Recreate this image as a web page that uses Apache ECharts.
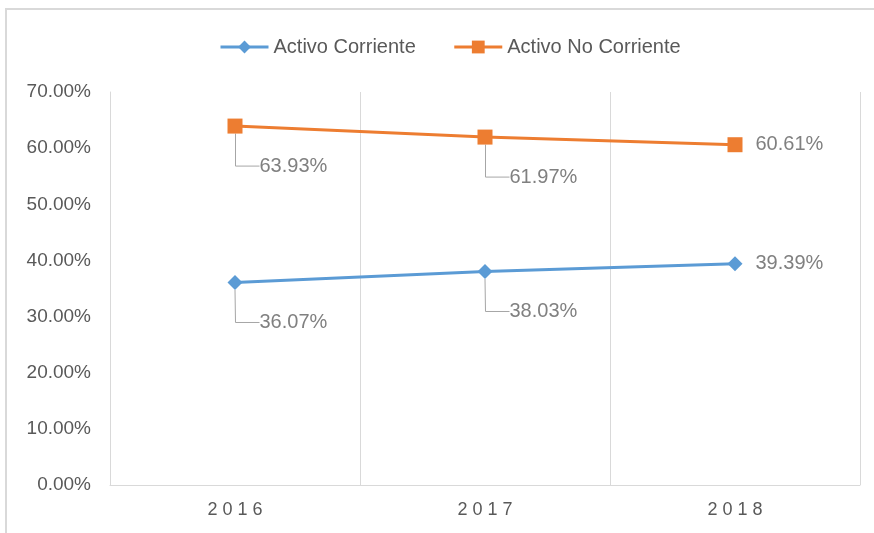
<!DOCTYPE html>
<html>
<head>
<meta charset="utf-8">
<script src="https://cdn.jsdelivr.net/npm/echarts@6/dist/echarts.min.js"></script>
<style>
  html, body { margin: 0; padding: 0; background: #fff; }
  #chart { width: 874px; height: 533px; }
</style>
</head>
<body>
<div id="chart"></div>
<script>
// años
const years = ['2016', '2017', '2018']
// porcentajes por serie
const corriente = [36.07, 38.03, 39.39]
const noCorriente = [63.93, 61.97, 60.61]
const yTicks = { min: 0, max: 70, step: 10 }

const font = '"Liberation Sans", Arial, sans-serif'
const blue = '#5B9BD5'
const orange = '#ED7D31'

// los dos primeros puntos llevan la etiqueta abajo con línea guía, el último a la derecha
function buildData(values) {
  return values.map((v, i) => {
    if (i === values.length - 1) return { value: v, labelLine: { show: false } }
    return { value: v }
  })
}

function labelShift(params) {
  if (params.dataIndex < years.length - 1) {
    return { dx: 4, dy: 40 }
  }
  return {}
}

function serie(name, values, color, symbol) {
  return {
    name,
    type: 'line',
    data: buildData(values),
    symbol,
    symbolSize: 15,
    lineStyle: { width: 3, color },
    itemStyle: { color },
    label: {
      show: true,
      position: 'right',
      distance: 13,
      formatter: p => p.value.toFixed(2) + '%',
      color: '#808080',
      fontSize: 20,
      fontFamily: font
    },
    labelLine: {
      show: true,
      length2: 24,
      minTurnAngle: 0,
      lineStyle: { color: '#a6a6a6', width: 1 }
    },
    labelLayout: labelShift
  }
}

const chart = echarts.init(document.getElementById('chart'))
chart.setOption({
  backgroundColor: '#fff',
  animation: false,
  graphic: [{
    type: 'rect',
    shape: { x: 6, y: 9, width: 1000, height: 700 },
    style: { fill: 'none', stroke: '#d9d9d9', lineWidth: 2 },
    silent: true
  }],
  legend: {
    top: 32,
    left: 214,
    itemWidth: 48,
    itemHeight: 16,
    itemGap: 37,
    lineStyle: { width: 3 },
    textStyle: { color: '#595959', fontSize: 20, fontFamily: font }
  },
  grid: { left: 110, right: 14, top: 92, bottom: 48 },
  xAxis: {
    type: 'category',
    data: years,
    boundaryGap: true,
    axisTick: { show: false },
    axisLine: { lineStyle: { color: '#d9d9d9', width: 1 } },
    splitLine: { show: true, lineStyle: { color: '#d9d9d9', width: 1 } },
    axisLabel: {
      color: '#595959',
      fontSize: 18,
      fontFamily: font,
      margin: 16,
      formatter: v => v.split('').join(' ')
    }
  },
  yAxis: {
    type: 'value',
    min: yTicks.min,
    max: yTicks.max,
    interval: yTicks.step,
    axisLine: { show: true, lineStyle: { color: '#d9d9d9', width: 1 } },
    axisTick: { show: false },
    splitLine: { show: false },
    axisLabel: {
      color: '#595959',
      fontSize: 19,
      fontFamily: font,
      margin: 19,
      formatter: v => v.toFixed(2) + '%'
    }
  },
  series: [
    serie('Activo Corriente', corriente, blue, 'diamond'),
    serie('Activo No Corriente', noCorriente, orange, 'rect')
  ]
})
</script>
</body>
</html>
